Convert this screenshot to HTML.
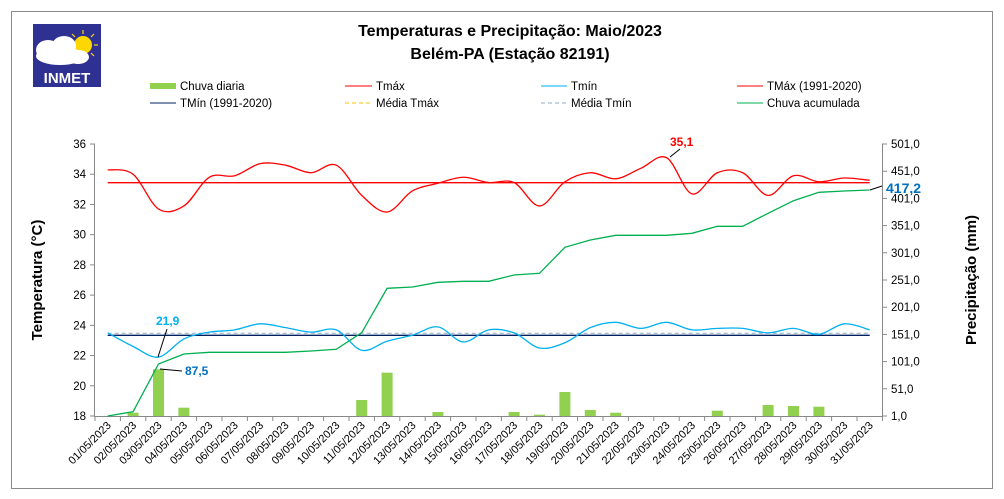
<!DOCTYPE html>
<html><head><meta charset="utf-8"><style>
body{margin:0;background:#fff;}
svg{display:block;font-family:"Liberation Sans",sans-serif;}
</style></head><body>
<svg id="s" width="1004" height="499" viewBox="0 0 1004 499" xmlns="http://www.w3.org/2000/svg">
<rect x="0" y="0" width="1004" height="499" fill="#fff"/>
<rect x="11.5" y="11.5" width="981" height="477" fill="none" stroke="#8a8a8a" stroke-width="1"/>
<!-- logo -->
<rect x="33" y="24" width="68" height="63" fill="#2e3192"/>
<circle cx="83" cy="45" r="9" fill="#ffd700"/>
<g stroke="#ffd700" stroke-width="1.2">
<line x1="83" y1="30" x2="83" y2="34"/><line x1="94" y1="34" x2="91" y2="37"/><line x1="98" y1="45" x2="94" y2="45"/><line x1="72" y1="34" x2="75" y2="37"/><line x1="94" y1="56" x2="91" y2="53"/>
</g>
<ellipse cx="60" cy="56" rx="24" ry="9" fill="#fff"/>
<ellipse cx="48" cy="50" rx="12" ry="10" fill="#fff"/>
<ellipse cx="64" cy="46" rx="12" ry="10" fill="#fff"/>
<ellipse cx="78" cy="57" rx="11" ry="7" fill="#fff"/>
<text x="67" y="83" font-size="15" font-weight="bold" fill="#fff" text-anchor="middle">INMET</text>
<text x="510" y="36" font-size="16" font-weight="bold" text-anchor="middle">Temperaturas e Precipitação: Maio/2023</text>
<text x="510" y="59" font-size="16" font-weight="bold" text-anchor="middle">Belém-PA (Estação 82191)</text>
<g font-size="11.5" fill="#000">
<rect x="150" y="83" width="26" height="6" fill="#92d050"/><text x="180" y="90">Chuva diaria</text>
<line x1="345" y1="86" x2="372" y2="86" stroke="#ff0000"/><text x="376" y="90">Tmáx</text>
<line x1="541" y1="86" x2="567" y2="86" stroke="#00b0f0"/><text x="571" y="90">Tmín</text>
<line x1="737" y1="86" x2="763" y2="86" stroke="#ff0000"/><text x="767" y="90">TMáx (1991-2020)</text>
<line x1="150" y1="103" x2="176" y2="103" stroke="#002060"/><text x="180" y="107">TMín (1991-2020)</text>
<line x1="345" y1="103" x2="372" y2="103" stroke="#ffc000" stroke-dasharray="4,3"/><text x="376" y="107">Média Tmáx</text>
<line x1="541" y1="103" x2="567" y2="103" stroke="#8ea9c8" stroke-dasharray="4,3"/><text x="571" y="107">Média Tmín</text>
<line x1="737" y1="103" x2="763" y2="103" stroke="#00b050"/><text x="767" y="107">Chuva acumulada</text>
</g>
<g id="plot"></g>
<text transform="translate(42,280) rotate(-90)" font-size="15" font-weight="bold" text-anchor="middle">Temperatura (°C)</text>
<text transform="translate(976,280) rotate(-90)" font-size="15" font-weight="bold" text-anchor="middle">Precipitação (mm)</text>
</svg>
<script>
var NS="http://www.w3.org/2000/svg",g=document.getElementById("plot");
function el(t,a,txt){var e=document.createElementNS(NS,t);for(var k in a)e.setAttribute(k,a[k]);if(txt!=null)e.textContent=txt;g.appendChild(e);return e;}
var X0=95,W=25.4,B=416;
function cx(i){return X0+W*(i+0.5);}
function ty(t){return B-(t-18)*15.11;}
function py(v){return B-(v-1)*272/500;}
var tmax=[34.3,34.0,31.7,31.9,33.8,33.9,34.7,34.6,34.1,34.6,32.6,31.5,32.9,33.4,33.8,33.45,33.45,31.9,33.5,34.1,33.7,34.4,35.1,32.7,34.1,34.1,32.6,33.9,33.5,33.75,33.6];
var tmin=[23.5,22.6,21.9,23.1,23.55,23.7,24.1,23.85,23.55,23.7,22.35,22.95,23.35,23.9,22.9,23.7,23.5,22.5,22.85,23.85,24.2,23.8,24.2,23.7,23.8,23.8,23.5,23.8,23.4,24.1,23.7];
var acc=[416,411.7,364,354,352.3,352.3,352.3,352.3,351,349.3,332.7,288.3,287,282.3,281.3,281.3,275,273.3,247.3,240,235.3,235.3,235.3,233.3,226.3,226.3,213.3,200.7,192.3,191,190];
var bars={1:412.7,2:369.3,3:407.7,10:400,11:372.7,13:412,16:412,17:414.7,18:392,19:410,20:412.7,24:410.7,26:405,27:406,28:406.7};
el("line",{x1:94.5,y1:144,x2:94.5,y2:416,stroke:"#888"});
el("line",{x1:882.5,y1:144,x2:882.5,y2:416,stroke:"#888"});
el("line",{x1:94,y1:416.5,x2:883,y2:416.5,stroke:"#888"});
for(var t=18;t<=36;t+=2){var y=ty(t);el("line",{x1:90,y1:y,x2:95,y2:y,stroke:"#888"});el("text",{x:86,y:y+4,"font-size":11.5,"text-anchor":"end"},String(t));}
for(var k=0;k<=10;k++){var v=1+50*k,y=py(v);el("line",{x1:882,y1:y,x2:887,y2:y,stroke:"#888"});el("text",{x:891,y:y+4,"font-size":11.5},(v+",0"));}
for(var i=0;i<=31;i++){var x=X0+W*i;el("line",{x1:x,y1:416,x2:x,y2:421,stroke:"#888"});}
for(var i=0;i<31;i++){var d=(i+1<10?"0":"")+(i+1)+"/05/2023",x=cx(i)+4,y=426;el("text",{transform:"translate("+x+","+y+") rotate(-45)","font-size":11,"text-anchor":"end"},d);}
for(var k in bars){var x=cx(+k);el("rect",{x:x-5.5,y:bars[k],width:11,height:416-bars[k],fill:"#92d050"});}
function smooth(pts){var d="M"+pts[0][0]+","+pts[0][1];for(var i=0;i<pts.length-1;i++){var p0=pts[Math.max(i-1,0)],p1=pts[i],p2=pts[i+1],p3=pts[Math.min(i+2,pts.length-1)];var c1x=p1[0]+(p2[0]-p0[0])/6,c1y=p1[1]+(p2[1]-p0[1])/6,c2x=p2[0]-(p3[0]-p1[0])/6,c2y=p2[1]-(p3[1]-p1[1])/6;d+=" C"+c1x+","+c1y+" "+c2x+","+c2y+" "+p2[0]+","+p2[1];}return d;}
var x1=cx(0),x2=cx(30);
el("line",{x1:x1,y1:ty(33.44),x2:x2,y2:ty(33.44),stroke:"#ff0000","stroke-width":1.3});
el("line",{x1:x1,y1:333.3,x2:x2,y2:333.3,stroke:"#8ea9c8","stroke-dasharray":"4,3"});
el("line",{x1:x1,y1:335.3,x2:x2,y2:335.3,stroke:"#002060","stroke-width":1.3});
el("path",{d:"M"+acc.map(function(v,i){return cx(i)+","+v}).join(" L"),fill:"none",stroke:"#00b050","stroke-width":1.3});
el("path",{d:smooth(tmax.map(function(v,i){return[cx(i),ty(v)]})),fill:"none",stroke:"#ff0000","stroke-width":1.3});
el("path",{d:smooth(tmin.map(function(v,i){return[cx(i),ty(v)]})),fill:"none",stroke:"#00b0f0","stroke-width":1.3});
el("line",{x1:670,y1:157,x2:680,y2:149,stroke:"#000"});
el("text",{x:670,y:146,"font-size":12,"font-weight":"bold",fill:"#ff0000"},"35,1");
el("line",{x1:158,y1:357,x2:167,y2:329,stroke:"#000"});
el("text",{x:156,y:325,"font-size":12,"font-weight":"bold",fill:"#00b0f0"},"21,9");
el("line",{x1:160,y1:369,x2:182,y2:371,stroke:"#000"});
el("text",{x:185,y:375,"font-size":12,"font-weight":"bold",fill:"#0070c0"},"87,5");
el("line",{x1:870,y1:190,x2:882,y2:186,stroke:"#000"});
el("text",{x:886,y:193,"font-size":14,"font-weight":"bold",fill:"#0070c0"},"417,2");
</script>
</body></html>
